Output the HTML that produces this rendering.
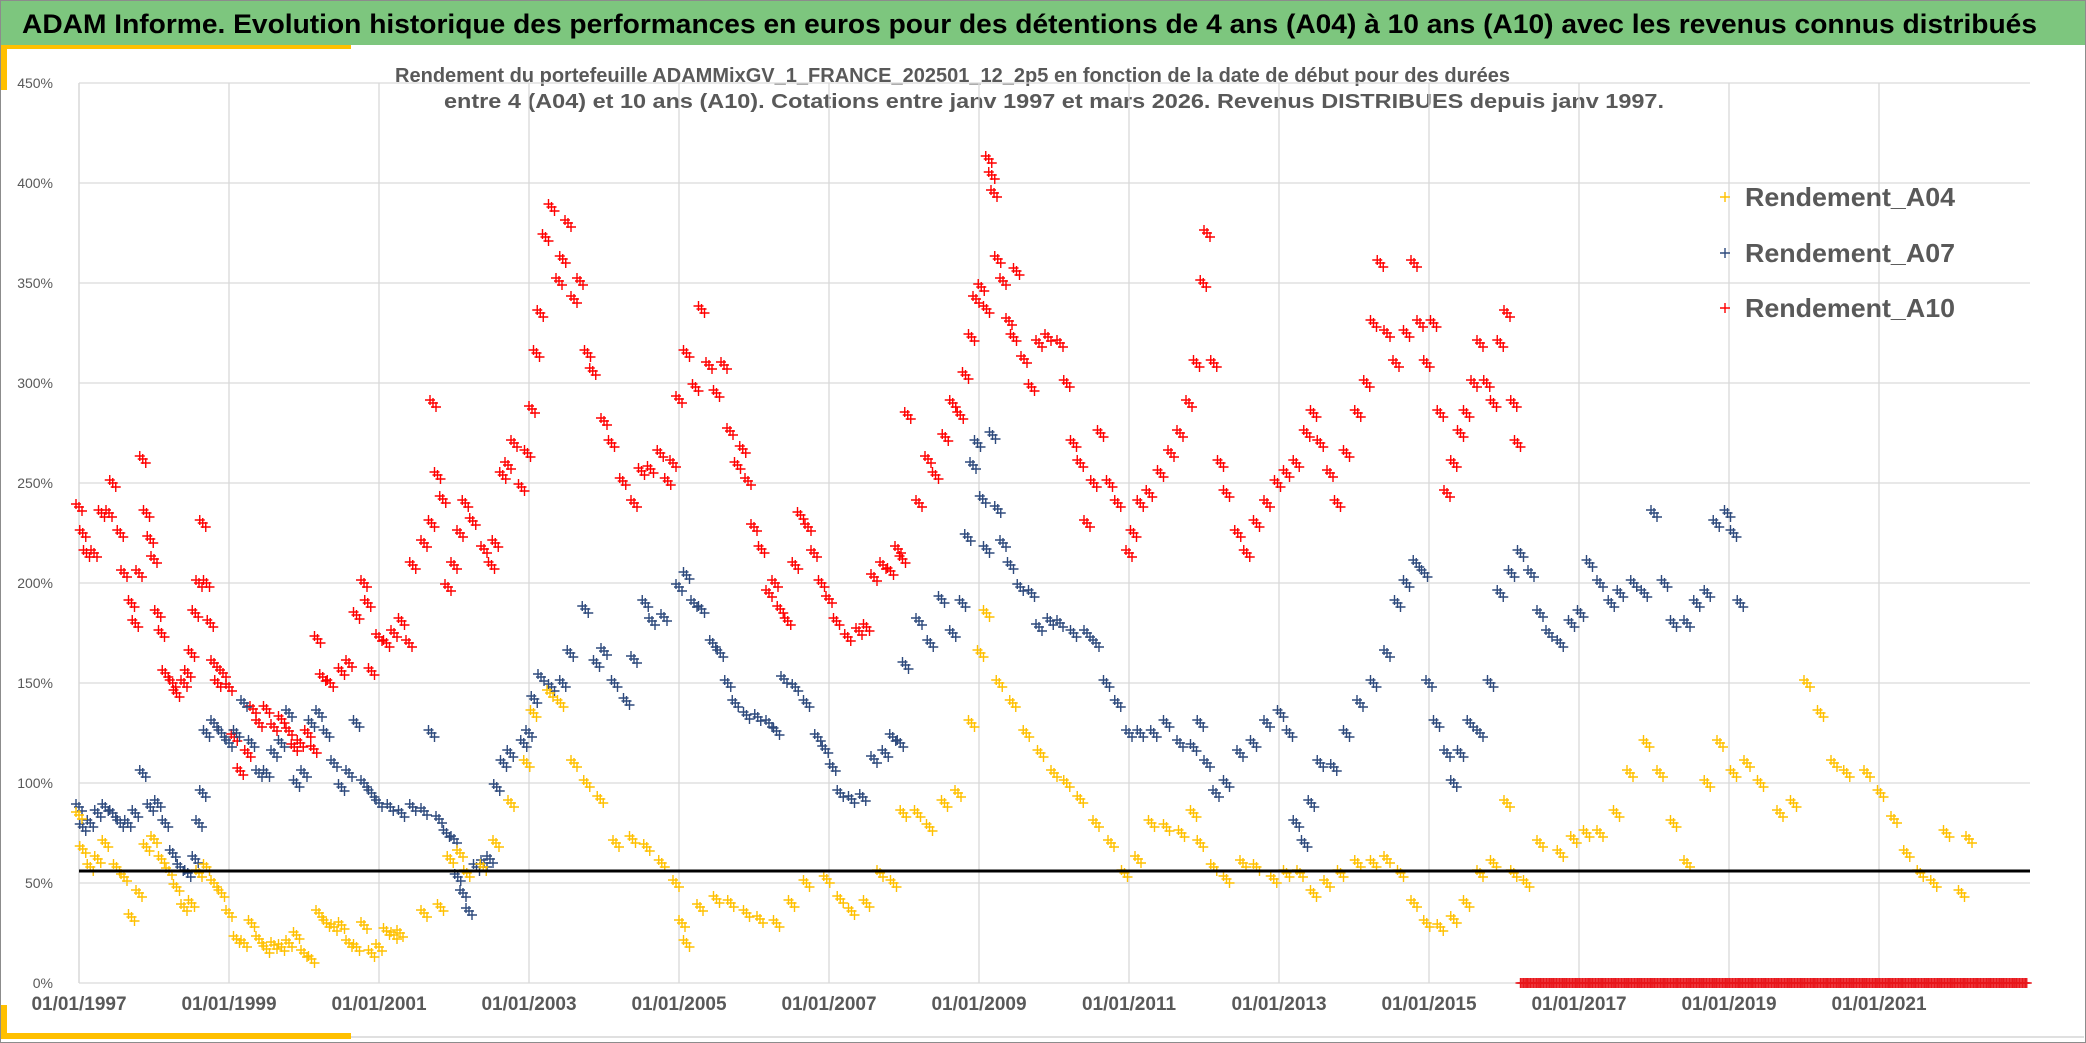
<!DOCTYPE html>
<html><head><meta charset="utf-8"><style>
html,body{margin:0;padding:0;background:#fff;}
svg{display:block;font-family:"Liberation Sans",sans-serif;}
</style></head><body>
<svg id="chart" width="2086" height="1043" viewBox="0 0 2086 1043" xmlns="http://www.w3.org/2000/svg">
<rect x="0.5" y="0.5" width="2085" height="1042" fill="#fff" stroke="#8c8c8c"/>
<rect x="1" y="1" width="2084" height="44" fill="#7DC67E"/>
<text x="22" y="33" font-size="27" font-weight="bold" fill="#000" textLength="2015" lengthAdjust="spacingAndGlyphs">ADAM Informe. Evolution historique des performances en euros pour des détentions de 4 ans (A04) à 10 ans (A10) avec les revenus connus distribués</text>
<rect x="1" y="45" width="350" height="4" fill="#FFC000"/>
<rect x="1" y="45" width="6" height="45" fill="#FFC000"/>
<rect x="1" y="1033" width="350" height="6" fill="#FFC000"/>
<rect x="1" y="1005" width="6" height="34" fill="#FFC000"/>
<line x1="351" y1="1037" x2="2084" y2="1037" stroke="#e0e0e0" stroke-width="2"/>
<text x="395" y="82" font-size="20" font-weight="bold" fill="#595959" textLength="1115" lengthAdjust="spacingAndGlyphs">Rendement du portefeuille ADAMMixGV_1_FRANCE_202501_12_2p5  en fonction de la date de début pour des durées</text>
<text x="444" y="108" font-size="20" font-weight="bold" fill="#595959" textLength="1220" lengthAdjust="spacingAndGlyphs">entre 4 (A04) et 10 ans (A10). Cotations entre janv 1997 et mars 2026. Revenus DISTRIBUES depuis janv 1997.</text>
<g id="grid"></g>
<g id="yticks"></g>
<g id="xticks"></g>
<g id="marks"></g>
<g id="legend"></g>
</svg>
<script>
const yTicks = [0,50,100,150,200,250,300,350,400,450];
const yTickLabels = ["0%","50%","100%","150%","200%","250%","300%","350%","400%","450%"];
const xTicks = [1997,1999,2001,2003,2005,2007,2009,2011,2013,2015,2017,2019,2021];
const xTickLabels = ["01/01/1997","01/01/1999","01/01/2001","01/01/2003","01/01/2005","01/01/2007","01/01/2009","01/01/2011","01/01/2013","01/01/2015","01/01/2017","01/01/2019","01/01/2021"];
const refLevel = 56;
const a04Dates = [1997.00,1997.05,1997.15,1997.25,1997.35,1997.5,1997.6,1997.7,1997.8,1997.9,1998.0,1998.1,1998.2,1998.3,1998.4,1998.5,1998.6,1998.7,1998.8,1998.9,1999.0,1999.1,1999.2,1999.3,1999.4,1999.5,1999.6,1999.7,1999.8,1999.9,2000.0,2000.1,2000.2,2000.3,2000.4,2000.5,2000.6,2000.7,2000.8,2000.9,2001.0,2001.1,2001.2,2001.28,2001.6,2001.82,2001.95,2002.08,2002.17,2002.39,2002.56,2002.76,2002.97,2003.06,2003.28,2003.42,2003.6,2003.77,2003.95,2004.16,2004.38,2004.57,2004.77,2004.96,2005.04,2005.1,2005.28,2005.5,2005.69,2005.9,2006.08,2006.3,2006.5,2006.7,2006.97,2007.15,2007.3,2007.5,2007.68,2007.86,2007.99,2008.18,2008.34,2008.54,2008.72,2008.9,2009.02,2009.1,2009.27,2009.45,2009.63,2009.82,2010.0,2010.17,2010.35,2010.56,2010.76,2010.94,2011.12,2011.3,2011.5,2011.7,2011.86,2011.95,2012.13,2012.3,2012.52,2012.7,2012.93,2013.1,2013.28,2013.46,2013.64,2013.82,2014.05,2014.26,2014.44,2014.62,2014.8,2014.97,2015.15,2015.33,2015.5,2015.68,2015.86,2016.04,2016.13,2016.3,2016.48,2016.75,2016.93,2017.1,2017.28,2017.5,2017.68,2017.9,2018.08,2018.26,2018.44,2018.71,2018.88,2019.06,2019.24,2019.42,2019.68,2019.86,2020.04,2020.22,2020.4,2020.57,2020.84,2021.02,2021.2,2021.37,2021.55,2021.73,2021.9,2022.1,2022.2];
const a04Vals = [84,67,58,62,70,58,53,33,45,68,72,62,56,48,38,40,55,58,50,45,35,22,20,30,22,17,19,18,20,24,15,12,35,30,28,29,20,18,29,15,18,26,24,25,35,38,62,65,55,58,70,90,110,135,145,140,110,100,92,70,72,68,60,50,30,20,38,42,40,35,32,30,40,50,52,42,36,40,55,50,85,85,78,90,95,130,165,185,150,140,125,115,105,100,92,80,70,55,62,80,78,75,85,70,58,52,60,58,52,55,55,45,50,55,60,60,62,55,40,30,28,32,40,55,60,90,55,50,70,65,72,75,75,85,105,120,105,80,60,100,120,105,110,100,85,90,150,135,110,105,105,95,82,65,55,50,75,45,72];
const a07Dates = [1997.0,1997.05,1997.15,1997.25,1997.35,1997.45,1997.55,1997.65,1997.75,1997.85,1997.95,1998.05,1998.15,1998.25,1998.35,1998.45,1998.55,1998.6,1998.65,1998.7,1998.8,1998.9,1999.0,1999.1,1999.2,1999.3,1999.4,1999.5,1999.6,1999.7,1999.8,1999.9,2000.0,2000.1,2000.2,2000.3,2000.4,2000.5,2000.6,2000.7,2000.8,2000.9,2001.0,2001.15,2001.3,2001.45,2001.6,2001.7,2001.8,2001.9,2002.0,2002.05,2002.12,2002.2,2002.3,2002.4,2002.48,2002.57,2002.66,2002.75,2002.93,2003.0,2003.07,2003.16,2003.3,2003.45,2003.55,2003.75,2003.9,2004.0,2004.14,2004.3,2004.4,2004.55,2004.64,2004.8,2005.0,2005.1,2005.2,2005.3,2005.45,2005.55,2005.65,2005.75,2005.9,2006.05,2006.2,2006.3,2006.4,2006.55,2006.7,2006.85,2006.95,2007.05,2007.15,2007.3,2007.45,2007.6,2007.75,2007.85,2007.95,2008.02,2008.2,2008.35,2008.5,2008.65,2008.78,2008.85,2008.92,2008.98,2009.05,2009.1,2009.18,2009.25,2009.32,2009.42,2009.55,2009.7,2009.8,2009.95,2010.08,2010.26,2010.44,2010.56,2010.7,2010.85,2011.0,2011.15,2011.33,2011.5,2011.68,2011.86,2011.95,2012.04,2012.16,2012.3,2012.48,2012.66,2012.84,2013.02,2013.14,2013.23,2013.34,2013.43,2013.55,2013.73,2013.9,2014.08,2014.26,2014.44,2014.58,2014.7,2014.83,2014.94,2015.0,2015.1,2015.24,2015.33,2015.42,2015.55,2015.68,2015.82,2015.95,2016.1,2016.22,2016.36,2016.48,2016.6,2016.75,2016.9,2017.02,2017.14,2017.28,2017.43,2017.55,2017.73,2017.87,2018.0,2018.14,2018.26,2018.44,2018.57,2018.71,2018.83,2018.98,2019.06,2019.15];
const a07Vals = [88,78,80,85,88,85,80,80,85,105,88,90,80,65,58,55,62,80,95,125,130,125,120,125,140,120,105,105,115,120,135,100,105,130,135,125,110,98,105,130,100,95,90,88,85,88,86,125,82,75,72,53,45,36,58,60,62,98,110,115,120,125,142,153,148,150,165,187,160,166,150,141,162,190,181,183,198,204,190,187,170,165,150,140,134,133,130,126,152,148,140,123,117,108,95,92,93,112,115,123,120,159,181,170,192,175,190,223,259,270,242,217,274,237,220,209,198,195,178,181,180,175,175,170,150,140,125,125,125,130,120,118,130,110,95,100,115,120,130,135,125,80,70,90,110,108,125,140,150,165,190,200,210,205,150,130,115,100,115,130,125,150,195,205,215,205,185,175,170,180,185,210,200,190,195,200,195,235,200,180,180,190,195,230,235,225,190];
const a10Dates = [1997.0,1997.05,1997.1,1997.2,1997.3,1997.4,1997.45,1997.55,1997.6,1997.7,1997.75,1997.8,1997.85,1997.9,1997.95,1998.0,1998.05,1998.1,1998.15,1998.25,1998.3,1998.4,1998.45,1998.5,1998.55,1998.6,1998.65,1998.7,1998.75,1998.8,1998.85,1998.92,1999.0,1999.07,1999.15,1999.25,1999.32,1999.4,1999.5,1999.6,1999.7,1999.8,1999.87,1999.95,2000.05,2000.13,2000.18,2000.25,2000.35,2000.5,2000.6,2000.7,2000.8,2000.85,2000.9,2001.0,2001.1,2001.2,2001.3,2001.4,2001.45,2001.6,2001.7,2001.72,2001.78,2001.85,2001.92,2002.0,2002.08,2002.15,2002.25,2002.4,2002.5,2002.55,2002.65,2002.72,2002.8,2002.9,2002.98,2003.04,2003.1,2003.15,2003.22,2003.3,2003.4,2003.45,2003.52,2003.6,2003.68,2003.78,2003.85,2004.0,2004.1,2004.25,2004.4,2004.5,2004.62,2004.75,2004.85,2004.92,2005.0,2005.1,2005.22,2005.3,2005.4,2005.5,2005.6,2005.68,2005.78,2005.85,2005.92,2006.0,2006.1,2006.2,2006.28,2006.35,2006.45,2006.55,2006.62,2006.72,2006.8,2006.9,2007.0,2007.1,2007.25,2007.4,2007.5,2007.6,2007.72,2007.82,2007.92,2007.98,2008.05,2008.2,2008.32,2008.42,2008.55,2008.65,2008.75,2008.82,2008.9,2008.96,2009.03,2009.1,2009.13,2009.17,2009.2,2009.25,2009.32,2009.4,2009.46,2009.5,2009.6,2009.7,2009.8,2009.92,2010.08,2010.17,2010.26,2010.35,2010.44,2010.53,2010.62,2010.74,2010.85,2011.0,2011.06,2011.15,2011.27,2011.42,2011.56,2011.68,2011.8,2011.9,2011.99,2012.04,2012.13,2012.22,2012.3,2012.45,2012.57,2012.7,2012.84,2012.98,2013.1,2013.23,2013.37,2013.46,2013.55,2013.68,2013.78,2013.9,2014.05,2014.17,2014.26,2014.35,2014.44,2014.56,2014.7,2014.8,2014.88,2014.97,2015.06,2015.15,2015.24,2015.33,2015.42,2015.5,2015.6,2015.68,2015.77,2015.86,2015.95,2016.04,2016.13,2016.18];
const a10Vals = [238,225,215,215,235,235,250,225,205,190,180,205,262,235,222,212,185,175,155,150,145,150,155,165,185,200,230,200,180,160,150,155,148,123,106,115,137,130,137,128,132,126,118,120,125,117,172,153,150,156,160,184,200,190,156,173,170,175,181,170,209,220,230,290,254,242,198,209,225,240,231,217,209,220,254,259,270,248,265,287,315,335,373,388,351,362,380,342,351,315,306,281,270,251,240,256,257,265,251,260,292,315,298,337,309,295,309,276,259,267,251,228,217,195,200,187,181,209,234,228,215,200,192,181,173,176,178,203,209,206,217,212,284,240,262,254,273,290,284,304,323,342,348,337,412,404,395,362,351,331,323,356,312,298,320,323,320,300,270,260,230,250,275,250,240,215,225,240,245,255,265,275,290,310,350,375,310,260,245,225,215,230,240,250,255,260,275,285,270,255,240,265,285,300,330,360,325,310,325,360,330,310,330,285,245,260,275,285,300,320,300,290,320,335,290,270];
const a10ZeroStart = 2016.22, a10ZeroEnd = 2022.98, zeroStep = 1/52;

const X0 = 79, PXY = 75, Y0 = 983, PXP = 2, XMAX = 2030;
const xs = d => X0 + (d - 1997) * PXY;
const ys = v => Y0 - v * PXP;
const NS = "http://www.w3.org/2000/svg";
function mk(tag, attrs, parent) { const e = document.createElementNS(NS, tag); for (const k in attrs) e.setAttribute(k, attrs[k]); parent.appendChild(e); return e; }

const grid = document.getElementById('grid');
yTicks.forEach((t, i) => {
  const l = mk('line', {x1: X0, x2: XMAX, y1: ys(t), y2: ys(t), stroke: '#D9D9D9', 'stroke-width': 1.3}, grid);
  
  
  const tx = mk('text', {x: 53, y: ys(t) + 5, 'text-anchor': 'end', 'font-size': 14, fill: '#595959'}, document.getElementById('yticks'));
  
  
  tx.textContent = yTickLabels[i];
});
xTicks.forEach((t, i) => {
  const l = mk('line', {x1: xs(t), x2: xs(t), y1: ys(450), y2: Y0, stroke: '#D9D9D9', 'stroke-width': 1.3}, grid);
  
  
  const tx = mk('text', {x: xs(t), y: 1010, 'text-anchor': 'middle', 'font-size': 19, 'font-weight': 'bold', fill: '#595959'}, document.getElementById('xticks'));
  
  
  tx.textContent = xTickLabels[i];
});

const marks = document.getElementById('marks');
function plus(g, x, y, color, s) {
  const p = mk('path', {d: `M${x - s} ${y}H${x + s}M${x} ${y - s}V${y + s}`, stroke: color, 'stroke-width': 1.4, fill: 'none'}, g);
  
  
}
function series(name, dates, vals, color) {
  const g = mk('g', {}, marks);
  
  
  dates.forEach((d, i) => {
    plus(g, xs(d), ys(vals[i]), color, 5);
    plus(g, xs(d) + 3, ys(vals[i]) + 4, color, 5);
    plus(g, xs(d) - 3, ys(vals[i]) - 3, color, 5);
  });
  return g;
}
const gz = mk('g', {}, marks);


for (let d = a10ZeroStart; d <= a10ZeroEnd; d += zeroStep) plus(gz, xs(d), ys(0), '#E8161B', 5);
series('series-a10', a10Dates, a10Vals, '#FF0000');
series('series-a07', a07Dates, a07Vals, '#2E4A7D');
series('series-a04', a04Dates, a04Vals, '#FFC000');
const ref = mk('line', {x1: X0, x2: XMAX, y1: ys(refLevel), y2: ys(refLevel), stroke: '#000', 'stroke-width': 3}, marks);


mk('line', {x1: X0, x2: X0, y1: ys(450), y2: Y0, stroke: '#D9D9D9', 'stroke-width': 1.3}, grid);

const legendNames = ["Rendement_A04", "Rendement_A07", "Rendement_A10"];
const legendColors = ["#FFC000", "#2E4A7D", "#FF0000"];
const legendY = [197, 253, 308];
const lg = document.getElementById('legend');


legendNames.forEach((n, i) => {
  const g = mk('g', {}, lg);
  
  
  plus(g, 1725, legendY[i], legendColors[i], 5);
  const t = mk('text', {x: 1745, y: legendY[i] + 9, 'font-size': 26, 'font-weight': 'bold', fill: '#595959', textLength: 210, lengthAdjust: 'spacingAndGlyphs'}, g);
  
  
  t.textContent = n;
});
</script>
</body></html>
